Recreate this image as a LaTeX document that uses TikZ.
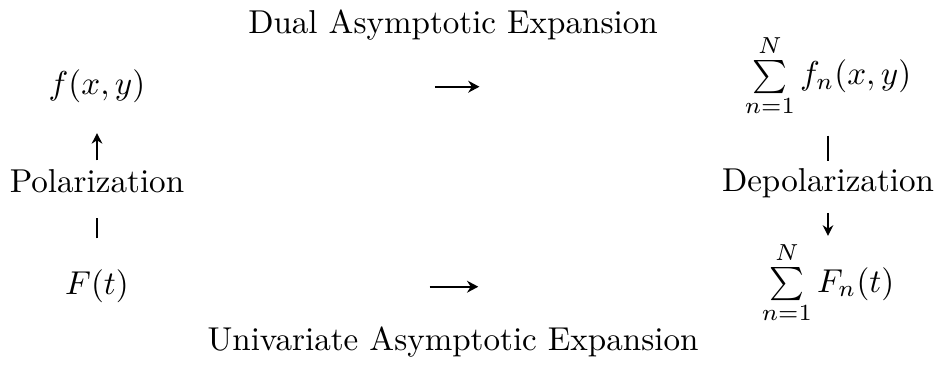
\documentclass[tikz,border=0pt]{standalone}
\usetikzlibrary{arrows.meta}
\begin{document}
\begin{tikzpicture}[x=0.3022pt,y=-0.3022pt,
  lbl/.style={inner sep=0pt,anchor=base},
  vline/.style={line width=0.45pt},
  varrow/.style={line width=0.45pt,-{Stealth[length=3.2pt,width=3.2pt]}},
  harrow/.style={line width=0.7pt,-{Stealth[length=3.4pt,width=3.6pt]}}]
\useasboundingbox (0,0) rectangle (936,366);
\node[lbl] (title) at (453,34) {Dual Asymptotic Expansion};
\node[lbl] (fxy) at (97,95) {$f(x,y)$};
\node[lbl] (sumf) at (828,85) {$\sum\limits_{n=1}^{N} f_n(x,y)$};
\node[lbl] (pol) at (97,193) {Polarization};
\node[lbl] (depol) at (828,192) {Depolarization};
\node[lbl] (Ft) at (97,295) {$F(t)$};
\node[lbl] (sumF) at (828,292) {$\sum\limits_{n=1}^{N} F_n(t)$};
\node[lbl] (bottom) at (453,351) {Univariate Asymptotic Expansion};
% horizontal arrows
\draw[harrow,shorten <=87.3pt,shorten >=80pt] (fxy.east) -- (fxy.east -| sumf.west);
\draw[harrow,shorten <=90.7pt,shorten >=85.5pt] (Ft.east) -- (Ft.east -| sumF.west);
% left column
\draw[varrow,shorten <=2.7pt,shorten >=8.8pt] (pol.north) -- (fxy.south);
\draw[vline,shorten <=9.4pt,shorten >=7.3pt] (Ft.north) -- (pol.south);
% right column
\draw[vline,shorten <=5.4pt,shorten >=2.1pt] (sumf.south) -- (depol.north);
\draw[varrow,shorten <=4.2pt,shorten >=1.5pt] (depol.south) -- (sumF.north);
\end{tikzpicture}
\end{document}
